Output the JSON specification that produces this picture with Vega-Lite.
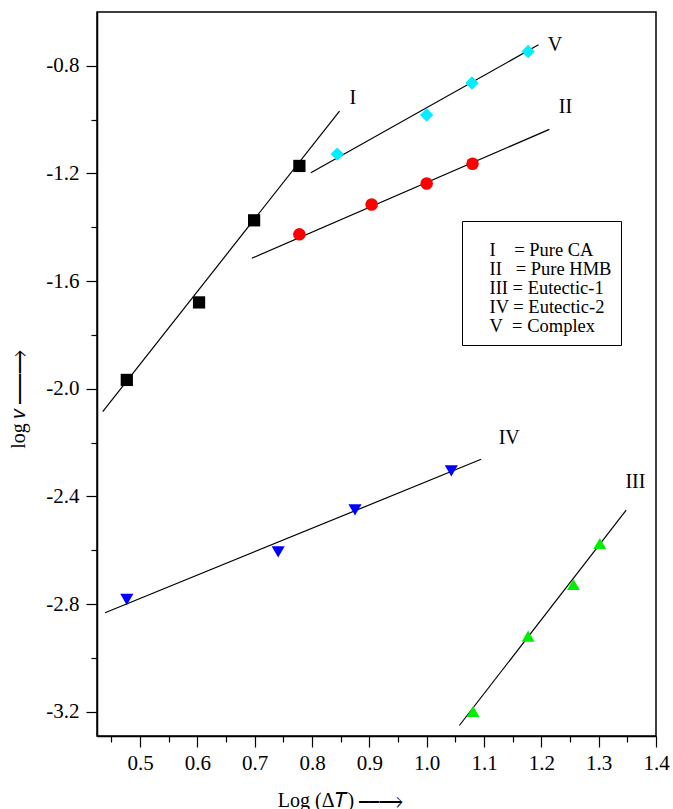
{
  "$schema": "https://vega.github.io/schema/vega-lite/v6.json",
  "width": 559,
  "height": 724,
  "autosize": {"type": "none"},
  "padding": {"left": 97, "top": 12, "right": 17, "bottom": 73},
  "background": "white",
  "config": {
    "view": {"stroke": "black", "strokeWidth": 1.5},
    "font": "Liberation Serif",
    "axis": {"labelFont": "Liberation Serif", "titleFont": "Liberation Serif", "labelFontSize": 21},
    "legend": {"labelFont": "Liberation Serif", "titleFont": "Liberation Serif"},
    "text": {"font": "Liberation Serif"}
  },
  "datasets": {
    "points": [
      {"series": "I", "x": 0.477, "y": -1.967},
      {"series": "I", "x": 0.603, "y": -1.679},
      {"series": "I", "x": 0.699, "y": -1.374},
      {"series": "I", "x": 0.778, "y": -1.172},
      {"series": "II", "x": 0.778, "y": -1.426},
      {"series": "II", "x": 0.904, "y": -1.315},
      {"series": "II", "x": 1.0, "y": -1.237},
      {"series": "II", "x": 1.08, "y": -1.164},
      {"series": "III", "x": 1.081, "y": -3.199},
      {"series": "III", "x": 1.177, "y": -2.919},
      {"series": "III", "x": 1.256, "y": -2.727},
      {"series": "III", "x": 1.302, "y": -2.575},
      {"series": "IV", "x": 0.477, "y": -2.783},
      {"series": "IV", "x": 0.741, "y": -2.606},
      {"series": "IV", "x": 0.875, "y": -2.45},
      {"series": "IV", "x": 1.043, "y": -2.305},
      {"series": "V", "x": 0.844, "y": -1.128},
      {"series": "V", "x": 1.0, "y": -0.983},
      {"series": "V", "x": 1.079, "y": -0.864},
      {"series": "V", "x": 1.177, "y": -0.747}
    ],
    "fits": [
      {"series": "I", "x": 0.435, "y": -2.085},
      {"series": "I", "x": 0.848, "y": -0.968},
      {"series": "II", "x": 0.695, "y": -1.515},
      {"series": "II", "x": 1.214, "y": -1.036},
      {"series": "III", "x": 1.057, "y": -3.251},
      {"series": "III", "x": 1.348, "y": -2.451},
      {"series": "IV", "x": 0.439, "y": -2.832},
      {"series": "IV", "x": 1.095, "y": -2.262},
      {"series": "V", "x": 0.798, "y": -1.197},
      {"series": "V", "x": 1.195, "y": -0.722}
    ],
    "labels": [
      {"text": "I", "x": 0.871, "y": -0.919},
      {"text": "II", "x": 1.242, "y": -0.952},
      {"text": "III", "x": 1.364, "y": -2.346},
      {"text": "IV", "x": 1.144, "y": -2.181},
      {"text": "V", "x": 1.224, "y": -0.722}
    ]
  },
  "encoding": {
    "x": {
      "field": "x",
      "type": "quantitative",
      "scale": {"domain": [0.425, 1.4], "nice": false, "zero": false},
      "axis": {
        "values": [0.45, 0.5, 0.55, 0.6, 0.65, 0.7, 0.75, 0.8, 0.85, 0.9, 0.95, 1.0, 1.05, 1.1, 1.15, 1.2, 1.25, 1.3, 1.35, 1.4],
        "labelExpr": "abs(datum.value*10 - round(datum.value*10)) < 0.01 ? format(datum.value, '.1f') : ''",
        "tickSize": {"condition": {"test": "abs(datum.value*10 - round(datum.value*10)) < 0.01", "value": 11}, "value": 6},
        "tickColor": "black",
        "tickWidth": 1.2,
        "domainColor": "black",
        "domainWidth": 1.5,
        "grid": false,
        "labelFont": "Liberation Serif",
        "labelFontSize": 21,
        "labelColor": "black",
        "labelPadding": 5,
        "labelFlush": false,
        "labelOverlap": false,
        "title": "Log (Δ𝑇)  ⎯⎯⟶",
        "titleFont": "Liberation Serif",
        "titleFontSize": 20,
        "titleFontWeight": "normal",
        "titleColor": "black",
        "titleX": 243,
        "titleY": 64,
        "titleAlign": "center",
        "titleBaseline": "middle"
      }
    },
    "y": {
      "field": "y",
      "type": "quantitative",
      "scale": {"domain": [-3.29, -0.6], "nice": false, "zero": false},
      "axis": {
        "values": [-3.2, -3.0, -2.8, -2.6, -2.4, -2.2, -2.0, -1.8, -1.6, -1.4, -1.2, -1.0, -0.8],
        "labelExpr": "abs(datum.value/0.4 - round(datum.value/0.4)) < 0.01 ? replace(format(datum.value, '.1f'), '−', '-') : ''",
        "tickSize": {"condition": {"test": "abs(datum.value/0.4 - round(datum.value/0.4)) < 0.01", "value": 11}, "value": 6},
        "tickColor": "black",
        "tickWidth": 1.2,
        "domainColor": "black",
        "domainWidth": 1.5,
        "grid": false,
        "labelFont": "Liberation Serif",
        "labelFontSize": 21,
        "labelColor": "black",
        "labelPadding": 7,
        "labelFlush": false,
        "labelOverlap": false,
        "title": "log 𝑣  ⎯⎯⎯⟶",
        "titleFont": "Liberation Serif",
        "titleFontSize": 20,
        "titleFontWeight": "normal",
        "titleColor": "black",
        "titleAngle": -90,
        "titleX": -79,
        "titleY": 387,
        "titleAlign": "center",
        "titleBaseline": "middle"
      }
    }
  },
  "layer": [
    {
      "data": {"name": "fits"},
      "mark": {"type": "line", "color": "black", "strokeWidth": 1.2},
      "encoding": {"detail": {"field": "series", "type": "nominal"}}
    },
    {
      "data": {"name": "points"},
      "mark": {"type": "point", "filled": true, "opacity": 1, "strokeWidth": 0},
      "encoding": {
        "color": {
          "field": "series",
          "type": "nominal",
          "scale": {"domain": ["I", "II", "III", "IV", "V"], "range": ["#000000", "#ff0000", "#00ee00", "#0000ff", "#00eeff"]},
          "legend": {
            "orient": "none",
            "legendX": 365,
            "legendY": 209,
            "title": " ",
            "titleFontSize": 10,
            "titlePadding": 1,
            "padding": 9,
            "strokeColor": "black",
            "fillColor": "white",
            "symbolSize": 0,
            "symbolOpacity": 0,
            "symbolStrokeWidth": 0,
            "labelOffset": 0,
            "labelFont": "Liberation Serif",
            "labelFontSize": 18.5,
            "labelColor": "black",
            "labelLimit": 300,
            "rowPadding": 0,
            "labelExpr": "datum.label === 'I' ? 'I\u00a0\u00a0\u00a0\u00a0= Pure CA' : datum.label === 'II' ? 'II\u00a0\u00a0\u00a0= Pure HMB' : datum.label === 'III' ? 'III = Eutectic-1' : datum.label === 'IV' ? 'IV = Eutectic-2' : 'V\u00a0\u00a0= Complex'"
          }
        },
        "shape": {
          "field": "series",
          "type": "nominal",
          "scale": {"domain": ["I", "II", "III", "IV", "V"], "range": ["square", "circle", "triangle-up", "triangle-down", "diamond"]},
          "legend": null
        },
        "size": {
          "field": "series",
          "type": "nominal",
          "scale": {"domain": ["I", "II", "III", "IV", "V"], "range": [150, 180, 300, 300, 250]},
          "legend": null
        }
      }
    },
    {
      "data": {"name": "labels"},
      "mark": {"type": "text", "font": "Liberation Serif", "fontSize": 20, "color": "black", "align": "center", "baseline": "middle"},
      "encoding": {"text": {"field": "text", "type": "nominal"}}
    }
  ]
}
